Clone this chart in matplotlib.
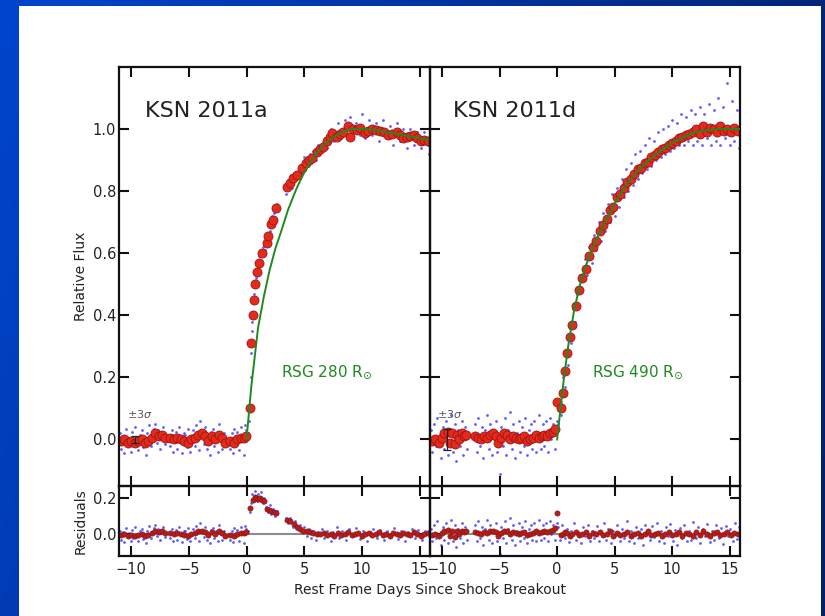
import numpy as np
import matplotlib
matplotlib.use("Agg")
import matplotlib.pyplot as plt
from matplotlib.patches import Rectangle

# ---------------- data ----------------
x_ticks = [-10, -5, 0, 5, 10, 15]
flux_ticks = [0.0, 0.2, 0.4, 0.6, 0.8, 1.0]
resid_ticks = [0.0, 0.2]
panel_names = ["KSN 2011a", "KSN 2011d"]
model_names = [r"RSG 280 R$_{\!\odot}$", r"RSG 490 R$_{\!\odot}$"]

# KSN 2011a -- before breakout the model is zero, so flux == residual there
a_red_pre = [(-10.9, -0.005), (-10.6, 0.0), (-10.3, -0.01), (-10.0, -0.005), (-9.7, -0.01),
             (-9.4, -0.005), (-9.1, 0.0), (-8.8, -0.01), (-8.5, -0.005), (-8.2, 0.005),
             (-7.9, 0.02), (-7.6, 0.01), (-7.3, 0.015), (-7.1, 0.005),
             (-6.6, 0.005), (-6.3, 0.0), (-6.0, 0.005), (-5.7, 0.0), (-5.4, -0.005),
             (-5.1, -0.01), (-4.8, 0.0), (-4.5, 0.005), (-4.2, 0.015), (-3.9, 0.02),
             (-3.6, 0.01), (-3.3, -0.005), (-3.0, 0.01), (-2.7, 0.0), (-2.4, 0.015),
             (-2.1, 0.005), (-1.9, -0.01),
             (-1.4, -0.005), (-1.1, -0.01), (-0.8, 0.0), (-0.5, 0.005), (-0.25, 0.005),
             (-0.05, 0.01)]
a_red_post = [(0.3, 0.10), (0.43, 0.31), (0.52, 0.40), (0.62, 0.45), (0.75, 0.50),
              (0.9, 0.54), (1.05, 0.57), (1.3, 0.60), (1.74, 0.633), (1.88, 0.657),
              (2.09, 0.693), (2.26, 0.708), (2.55, 0.745), (3.53, 0.812), (3.76, 0.826),
              (4.05, 0.842), (4.4, 0.853), (4.77, 0.874), (5.15, 0.89), (5.4, 0.90),
              (5.64, 0.906), (6.07, 0.927), (6.35, 0.935), (6.65, 0.943), (6.94, 0.96),
              (7.2, 0.975), (7.4, 0.987), (7.8, 0.976), (8.1, 0.985), (8.4, 0.99),
              (8.8, 1.01), (8.96, 0.976), (9.25, 1.0), (9.55, 0.998), (9.83, 1.005),
              (10.27, 0.988), (10.55, 0.995), (10.85, 1.0), (11.2, 0.998), (11.6, 0.995),
              (11.95, 0.99), (12.3, 0.98), (12.65, 0.985), (13.0, 0.992), (13.3, 0.98),
              (13.6, 0.97), (13.9, 0.975), (14.2, 0.978), (14.5, 0.98), (14.8, 0.97),
              (15.1, 0.96), (15.4, 0.965), (15.7, 0.962)]
a_red_res_post = [(0.3, 0.145), (0.55, 0.19), (0.7, 0.205), (0.85, 0.2), (1.0, 0.195),
                  (1.15, 0.2), (1.3, 0.19), (1.5, 0.185), (1.75, 0.14), (1.95, 0.135),
                  (2.15, 0.13), (2.4, 0.12), (2.55, 0.115), (3.55, 0.08), (3.8, 0.07),
                  (4.1, 0.055), (4.35, 0.04), (4.6, 0.03), (4.9, 0.02), (5.2, 0.015),
                  (5.5, 0.01), (5.8, 0.005), (6.1, 0.0), (6.4, 0.0), (6.7, 0.005),
                  (7.0, -0.005), (7.3, 0.0), (7.6, -0.01), (7.9, 0.005), (8.2, -0.005),
                  (8.5, 0.0), (8.8, 0.01), (9.1, -0.005), (9.4, 0.0), (9.7, 0.005),
                  (10.0, -0.01), (10.3, 0.0), (10.6, 0.005), (10.9, -0.005), (11.2, 0.0),
                  (11.5, 0.01), (11.8, -0.005), (12.1, 0.0), (12.4, -0.01), (12.7, 0.005),
                  (13.0, 0.0), (13.3, -0.005), (13.6, 0.005), (13.9, 0.0), (14.2, -0.005),
                  (14.5, 0.01), (14.8, 0.0), (15.1, -0.01), (15.4, 0.0), (15.7, 0.005)]
a_blue_pre = [(-11.0, 0.02), (-10.85, -0.03), (-10.7, 0.01), (-10.6, -0.045), (-10.45, 0.035),
              (-10.3, -0.015), (-10.2, 0.005), (-10.05, -0.04), (-9.9, 0.025), (-9.8, -0.02),
              (-9.65, 0.04), (-9.5, -0.01), (-9.4, -0.035), (-9.25, 0.015), (-9.1, 0.03),
              (-9.0, -0.025), (-8.85, 0.0), (-8.7, -0.05), (-8.6, 0.02), (-8.45, 0.045),
              (-8.3, -0.02), (-8.2, 0.01), (-8.05, 0.035), (-7.9, 0.05), (-7.8, -0.01),
              (-7.65, 0.03), (-7.5, -0.03), (-7.4, 0.025), (-7.25, 0.04), (-7.1, -0.015),
              (-6.65, -0.02), (-6.5, 0.03), (-6.4, -0.04), (-6.25, 0.01), (-6.1, 0.025),
              (-6.0, -0.03), (-5.85, 0.04), (-5.7, -0.005), (-5.6, -0.045), (-5.45, 0.02),
              (-5.3, 0.015), (-5.2, -0.025), (-5.05, 0.035), (-4.9, -0.04), (-4.8, 0.005),
              (-4.65, 0.03), (-4.5, -0.02), (-4.4, 0.045), (-4.25, 0.01), (-4.1, -0.035),
              (-4.0, 0.06), (-3.85, 0.02), (-3.7, -0.015), (-3.6, 0.04), (-3.45, -0.03),
              (-3.3, 0.01), (-3.2, -0.05), (-3.05, 0.025), (-2.9, 0.035), (-2.8, -0.02),
              (-2.65, 0.015), (-2.5, -0.04), (-2.4, 0.05), (-2.25, 0.0), (-2.1, -0.03),
              (-1.95, 0.02), (-1.45, -0.03), (-1.3, 0.02), (-1.2, -0.045), (-1.05, 0.035),
              (-0.9, -0.01), (-0.8, 0.025), (-0.65, -0.035), (-0.5, 0.04), (-0.4, 0.01),
              (-0.25, -0.05), (-0.1, 0.045), (-0.02, 0.03)]
a_blue_post = [(0.15, 0.02), (0.25, 0.06), (0.35, 0.2), (0.4, 0.28), (0.45, 0.35), (0.5, 0.38),
               (0.55, 0.44), (0.65, 0.47), (0.8, 0.52), (0.95, 0.53), (1.1, 0.59), (1.2, 0.56),
               (1.4, 0.62), (1.6, 0.61), (1.8, 0.66), (2.0, 0.67), (2.2, 0.72), (2.4, 0.73),
               (2.6, 0.76), (3.4, 0.79), (3.6, 0.83), (3.9, 0.81), (4.1, 0.86), (4.3, 0.84),
               (4.6, 0.88), (4.8, 0.86), (5.0, 0.91), (5.3, 0.88), (5.5, 0.92), (5.8, 0.93),
               (6.0, 0.9), (6.2, 0.95), (6.5, 0.93), (6.8, 0.97), (7.0, 0.94), (7.3, 1.0),
               (7.6, 0.96), (7.9, 1.02), (8.2, 0.97), (8.5, 1.03), (8.7, 0.98), (9.0, 1.04),
               (9.2, 0.97), (9.5, 1.02), (9.8, 0.98), (10.0, 1.05), (10.3, 0.97), (10.6, 1.03),
               (10.9, 0.98), (11.2, 1.02), (11.5, 0.96), (11.8, 1.03), (12.1, 0.97), (12.4, 1.01),
               (12.7, 0.95), (13.0, 1.02), (13.3, 0.96), (13.6, 1.0), (13.9, 0.94), (14.2, 1.0),
               (14.5, 0.95), (14.8, 0.99), (15.1, 0.94), (15.4, 0.99), (15.7, 0.95), (15.85, 0.92)]
a_blue_res_post = [(0.15, 0.02), (0.3, 0.12), (0.4, 0.17), (0.5, 0.22), (0.6, 0.18), (0.7, 0.24),
                   (0.8, 0.21), (0.9, 0.18), (1.0, 0.22), (1.1, 0.19), (1.25, 0.23), (1.4, 0.17),
                   (1.55, 0.2), (1.7, 0.15), (1.85, 0.12), (2.0, 0.16), (2.15, 0.11), (2.3, 0.14),
                   (2.45, 0.1), (2.6, 0.13), (3.4, 0.09), (3.6, 0.06), (3.8, 0.09), (4.0, 0.04),
                   (4.2, 0.07), (4.4, 0.03), (4.6, 0.05), (4.8, 0.01), (5.0, 0.04), (5.2, -0.01),
                   (5.4, 0.03), (5.6, -0.02), (5.8, 0.02), (6.0, -0.03), (6.2, 0.01), (6.5, 0.03),
                   (6.7, -0.02), (7.0, 0.02), (7.3, -0.035), (7.5, 0.01), (7.8, 0.04), (8.0, -0.02),
                   (8.3, 0.02), (8.6, -0.03), (8.9, 0.03), (9.2, -0.01), (9.5, 0.035), (9.8, -0.025),
                   (10.1, 0.02), (10.4, -0.04), (10.7, 0.01), (11.0, 0.03), (11.3, -0.02),
                   (11.6, 0.025), (11.9, -0.03), (12.2, 0.015), (12.5, -0.01), (12.8, 0.035),
                   (13.1, -0.025), (13.4, 0.02), (13.7, -0.035), (14.0, 0.01), (14.3, 0.03),
                   (14.6, -0.02), (14.9, 0.025), (15.2, -0.03), (15.5, 0.02), (15.8, -0.01)]
a_model = [(0.0, 0.0), (0.4, 0.165), (1.0, 0.36), (1.5, 0.46), (2.0, 0.545), (2.5, 0.615),
           (3.0, 0.67), (3.6, 0.74), (4.35, 0.81), (5.0, 0.86), (6.0, 0.92), (7.0, 0.96),
           (8.0, 0.985), (9.0, 1.0), (10.0, 1.0), (11.0, 0.998), (12.0, 0.99), (13.0, 0.985),
           (14.0, 0.978), (15.0, 0.97), (15.9, 0.965)]

# KSN 2011d
d_red_pre = [(-10.9, -0.005), (-10.6, 0.0), (-10.3, -0.01), (-10.0, 0.005), (-9.8, 0.02),
             (-9.5, 0.025), (-9.3, -0.01), (-9.1, 0.02), (-8.9, -0.015), (-8.7, 0.015),
             (-8.5, 0.0), (-8.3, 0.02), (-8.1, 0.01), (-7.9, 0.015),
             (-7.1, 0.01), (-6.85, 0.005), (-6.6, 0.0), (-6.35, 0.01), (-6.1, 0.005),
             (-5.85, 0.015), (-5.6, 0.02), (-5.35, 0.01), (-5.1, -0.01), (-4.85, 0.005),
             (-4.6, 0.02), (-4.35, 0.015), (-4.1, 0.0), (-3.85, 0.01), (-3.6, 0.005),
             (-3.35, 0.0), (-3.1, 0.005), (-2.85, 0.01), (-2.6, -0.005), (-2.35, 0.0),
             (-2.1, 0.005), (-1.85, 0.015), (-1.6, 0.005), (-1.35, 0.01), (-1.1, 0.015),
             (-0.85, 0.01), (-0.6, 0.02), (-0.35, 0.025), (-0.15, 0.035)]
d_red_post = [(0.0, 0.12), (0.3, 0.10), (0.5, 0.15), (0.7, 0.22), (0.9, 0.28), (1.1, 0.33),
              (1.3, 0.37), (1.6, 0.43), (1.9, 0.48), (2.2, 0.52), (2.5, 0.55), (2.8, 0.59),
              (3.1, 0.62), (3.4, 0.64), (3.7, 0.67), (4.0, 0.69), (4.3, 0.71), (4.6, 0.74),
              (4.9, 0.75), (5.2, 0.78), (5.5, 0.79), (5.8, 0.81), (6.1, 0.83), (6.4, 0.84),
              (6.7, 0.855), (7.0, 0.87), (7.3, 0.875), (7.6, 0.89), (7.9, 0.895), (8.2, 0.91),
              (8.5, 0.915), (8.8, 0.925), (9.1, 0.935), (9.4, 0.94), (9.7, 0.95), (10.0, 0.955),
              (10.3, 0.96), (10.6, 0.97), (10.9, 0.975), (11.2, 0.98), (11.5, 0.985),
              (11.8, 0.99), (12.1, 1.0), (12.4, 0.985), (12.7, 1.01), (13.0, 0.99),
              (13.3, 1.005), (13.6, 1.0), (13.9, 0.99), (14.2, 1.01), (14.5, 0.995),
              (14.8, 1.0), (15.1, 0.99), (15.4, 1.005), (15.7, 0.995)]
d_red_res_post = [(0.0, 0.115), (0.3, -0.005), (0.5, 0.0), (0.7, 0.01), (0.9, 0.005),
                  (1.1, -0.01), (1.3, 0.0), (1.6, 0.01), (1.9, -0.005), (2.2, 0.0),
                  (2.5, 0.01), (2.8, -0.01), (3.1, 0.005), (3.4, 0.0), (3.7, 0.01),
                  (4.0, -0.005), (4.3, 0.0), (4.6, 0.015), (4.9, -0.01), (5.2, 0.005),
                  (5.5, -0.005), (5.8, 0.0), (6.1, 0.01), (6.4, -0.01), (6.7, 0.0),
                  (7.0, 0.005), (7.3, -0.01), (7.6, 0.0), (7.9, 0.015), (8.2, -0.005),
                  (8.5, 0.0), (8.8, 0.005), (9.1, -0.01), (9.4, 0.0), (9.7, 0.01),
                  (10.0, -0.005), (10.3, 0.0), (10.6, 0.01), (10.9, -0.01), (11.2, 0.005),
                  (11.5, 0.0), (11.8, -0.01), (12.1, 0.01), (12.4, -0.005), (12.7, 0.015),
                  (13.0, 0.0), (13.3, -0.01), (13.6, 0.005), (13.9, 0.01), (14.2, -0.005),
                  (14.5, 0.0), (14.8, 0.01), (15.1, -0.005), (15.4, 0.005), (15.7, 0.0)]
d_blue_pre = [(-11.0, 0.03), (-10.85, -0.04), (-10.7, 0.05), (-10.55, -0.02), (-10.4, 0.07),
              (-10.25, 0.0), (-10.1, -0.06), (-9.95, 0.04), (-9.8, -0.03), (-9.65, 0.06),
              (-9.5, -0.05), (-9.35, 0.02), (-9.2, 0.08), (-9.05, -0.04), (-8.9, 0.05),
              (-8.75, -0.07), (-8.6, 0.03), (-8.45, -0.02), (-8.3, 0.06), (-8.15, -0.05),
              (-8.0, 0.04), (-7.85, -0.03), (-7.15, 0.05), (-7.0, -0.04), (-6.85, 0.07),
              (-6.7, -0.02), (-6.55, 0.04), (-6.4, -0.06), (-6.25, 0.03), (-6.1, 0.08),
              (-5.95, -0.03), (-5.8, 0.05), (-5.65, -0.05), (-5.5, 0.02), (-5.35, 0.06),
              (-5.2, -0.04), (-5.0, -0.11), (-4.85, 0.04), (-4.7, -0.02), (-4.55, 0.07),
              (-4.4, -0.05), (-4.25, 0.03), (-4.1, 0.09), (-3.95, -0.03), (-3.8, 0.05),
              (-3.65, -0.06), (-3.5, 0.02), (-3.35, 0.06), (-3.2, -0.04), (-3.05, 0.04),
              (-2.9, -0.02), (-2.75, 0.07), (-2.6, -0.05), (-2.45, 0.03), (-2.3, 0.05),
              (-2.15, -0.03), (-2.0, 0.06), (-1.85, -0.04), (-1.7, 0.02), (-1.55, 0.08),
              (-1.4, -0.03), (-1.25, 0.05), (-1.1, -0.02), (-0.95, 0.06), (-0.8, -0.04),
              (-0.65, 0.07), (-0.5, 0.0), (-0.35, 0.05), (-0.2, -0.03), (-0.05, 0.06)]
d_blue_post = [(0.05, 0.05), (0.2, 0.12), (0.35, 0.08), (0.5, 0.2), (0.65, 0.17), (0.8, 0.27),
               (0.95, 0.24), (1.1, 0.36), (1.25, 0.31), (1.4, 0.42), (1.55, 0.38), (1.7, 0.47),
               (1.85, 0.43), (2.0, 0.53), (2.2, 0.48), (2.4, 0.58), (2.6, 0.53), (2.8, 0.62),
               (3.0, 0.57), (3.2, 0.66), (3.4, 0.61), (3.6, 0.7), (3.8, 0.64), (4.0, 0.73),
               (4.2, 0.67), (4.4, 0.76), (4.6, 0.7), (4.8, 0.79), (5.0, 0.72), (5.2, 0.81),
               (5.4, 0.75), (5.6, 0.84), (5.8, 0.78), (6.0, 0.87), (6.2, 0.8), (6.4, 0.89),
               (6.6, 0.82), (6.8, 0.92), (7.0, 0.84), (7.2, 0.93), (7.4, 0.86), (7.6, 0.95),
               (7.8, 0.87), (8.0, 0.97), (8.2, 0.88), (8.4, 0.96), (8.6, 0.9), (8.8, 0.99),
               (9.0, 0.91), (9.2, 1.0), (9.4, 0.92), (9.6, 1.01), (9.8, 0.93), (10.0, 1.03),
               (10.2, 0.94), (10.4, 1.02), (10.6, 0.95), (10.8, 1.05), (11.0, 0.95), (11.2, 1.04),
               (11.4, 0.96), (11.6, 1.06), (11.8, 0.95), (12.0, 1.05), (12.2, 0.96), (12.4, 1.07),
               (12.6, 0.95), (12.8, 1.05), (13.0, 0.97), (13.2, 1.08), (13.4, 0.95), (13.6, 1.06),
               (13.8, 0.96), (14.0, 1.1), (14.2, 0.95), (14.4, 1.07), (14.6, 0.97), (14.8, 1.15),
               (15.0, 0.95), (15.2, 1.09), (15.4, 0.96), (15.6, 1.06), (15.8, 0.94)]
d_blue_res_post = [(0.05, 0.04), (0.25, -0.03), (0.45, 0.05), (0.65, -0.02), (0.85, 0.03),
                   (1.05, -0.045), (1.25, 0.02), (1.45, 0.06), (1.65, -0.03), (1.85, 0.01),
                   (2.05, -0.05), (2.25, 0.04), (2.45, -0.01), (2.65, 0.05), (2.85, -0.035),
                   (3.05, 0.02), (3.25, -0.02), (3.45, 0.045), (3.65, -0.04), (3.85, 0.01),
                   (4.05, 0.06), (4.25, -0.03), (4.45, 0.03), (4.65, -0.05), (4.85, 0.02),
                   (5.05, -0.01), (5.25, 0.05), (5.45, -0.04), (5.65, 0.03), (5.85, -0.02),
                   (6.05, 0.07), (6.25, -0.035), (6.45, 0.015), (6.65, -0.05), (6.85, 0.04),
                   (7.05, -0.02), (7.25, 0.03), (7.45, -0.06), (7.65, 0.05), (7.85, 0.0),
                   (8.05, -0.03), (8.25, 0.045), (8.45, -0.015), (8.65, 0.06), (8.85, -0.04),
                   (9.05, 0.02), (9.25, -0.05), (9.45, 0.04), (9.65, -0.01), (9.85, 0.055),
                   (10.05, -0.035), (10.25, 0.025), (10.45, -0.06), (10.65, 0.035), (10.85, -0.02),
                   (11.05, 0.05), (11.25, -0.04), (11.45, 0.015), (11.65, -0.03), (11.85, 0.065),
                   (12.05, -0.02), (12.25, 0.04), (12.45, -0.05), (12.65, 0.03), (12.85, -0.01),
                   (13.05, 0.055), (13.25, -0.045), (13.45, 0.02), (13.65, -0.03), (13.85, 0.05),
                   (14.05, -0.02), (14.25, 0.035), (14.45, -0.055), (14.65, 0.045), (14.85, -0.01),
                   (15.05, 0.03), (15.25, -0.04), (15.45, 0.06), (15.65, -0.025), (15.85, 0.04)]
d_model = [(0.0, 0.0), (0.3, 0.1), (0.6, 0.2), (1.0, 0.31), (1.5, 0.42), (2.0, 0.5),
           (2.5, 0.56), (3.0, 0.61), (3.5, 0.65), (4.0, 0.69), (4.6, 0.73), (5.0, 0.76),
           (6.0, 0.82), (7.0, 0.865), (8.0, 0.9), (9.0, 0.93), (10.0, 0.955), (11.0, 0.975),
           (12.0, 0.99), (13.0, 0.997), (14.0, 1.0), (15.9, 1.0)]

# error-bar marker next to the "+-3 sigma" note
sigma_x = [-9.7, -9.6]
sigma_err = [0.012, 0.033]

panels = [
    (a_red_pre, a_red_post, a_red_res_post, a_blue_pre, a_blue_post, a_blue_res_post, a_model),
    (d_red_pre, d_red_post, d_red_res_post, d_blue_pre, d_blue_post, d_blue_res_post, d_model),
]

# ---------------- figure ----------------
W, H = 825, 616
fig = plt.figure(figsize=(W / 100, H / 100), dpi=100)

# blue slide background with white card
bg = fig.add_axes([0, 0, 1, 1], zorder=-10)
gx = np.linspace(0, 1, 200)
gy = np.linspace(0, 1, 50)
GX, GY = np.meshgrid(gx, gy)
c_left = np.array([0, 68, 206]) / 255
c_right = np.array([0, 38, 122]) / 255
img = c_left[None, None, :] * (1 - GX[..., None]) + c_right[None, None, :] * GX[..., None]
img = img * (1 - 0.12 * GY[..., None])
bg.imshow(img, extent=[0, 1, 0, 1], aspect="auto", origin="upper")
bg.add_patch(Rectangle((19 / W, 0), (821 - 19) / W, (H - 6) / H, transform=bg.transAxes,
                       facecolor="white", edgecolor="none"))
bg.set_xlim(0, 1)
bg.set_ylim(0, 1)
bg.axis("off")

xL, xM, xR = 119 / W, 430 / W, 740 / W
main_b, main_t = 1 - 486 / H, 1 - 67 / H
res_b = 1 - 556 / H

txt_col = "#222222"
blue = "#3434ff"
red_face = "#e42a1c"
red_edge = "#9e1410"
green = "#1f8a1f"

for i, (red_pre, red_post, red_res_post, blue_pre, blue_post, blue_res_post, model) in enumerate(panels):
    left = xL if i == 0 else xM
    width = (xM - xL) if i == 0 else (xR - xM)
    ax = fig.add_axes([left, main_b, width, main_t - main_b])
    axr = fig.add_axes([left, res_b, width, main_b - res_b])

    rp = np.array(red_pre)
    rq = np.array(red_post)
    rr = np.array(red_res_post)
    bp = np.array(blue_pre)
    bq = np.array(blue_post)
    br = np.array(blue_res_post)
    md = np.array(model)

    # main light curve
    ax.scatter(bp[:, 0], bp[:, 1], s=4, color=blue, alpha=0.8, lw=0, zorder=1)
    ax.scatter(bq[:, 0], bq[:, 1], s=4, color=blue, alpha=0.8, lw=0, zorder=1)
    ax.plot(rp[:, 0], rp[:, 1], "o", ms=6.5, mfc=red_face, mec=red_edge, mew=0.6, zorder=2)
    ax.plot(rq[:, 0], rq[:, 1], "o", ms=6.5, mfc=red_face, mec=red_edge, mew=0.6, zorder=2)
    ax.plot(md[:, 0], md[:, 1], color=green, lw=1.4, zorder=3)

    # residuals (model is zero before breakout)
    axr.axhline(0, color="#8c8c8c", lw=1.5, zorder=0)
    axr.scatter(bp[:, 0], bp[:, 1], s=4, color=blue, alpha=0.8, lw=0, zorder=1)
    axr.scatter(br[:, 0], br[:, 1], s=4, color=blue, alpha=0.8, lw=0, zorder=1)
    axr.plot(rp[:, 0], rp[:, 1], "o", ms=3.8, mfc="#b41e18", mec="#8a1010", mew=0.4, zorder=2)
    axr.plot(rr[:, 0], rr[:, 1], "o", ms=3.8, mfc="#b41e18", mec="#8a1010", mew=0.4, zorder=2)

    ax.text(0.085 if i == 0 else 0.075, 0.895, panel_names[i], transform=ax.transAxes,
            fontsize=16, color=txt_col, ha="left", va="center")
    ax.text(2.98 if i == 0 else 3.07, 0.217, model_names[i], color=green,
            fontsize=11, ha="left", va="center")
    ax.text(-10.35 if i == 0 else -10.4, 0.083, r"$\pm3\sigma$", color="#555555",
            fontsize=8, ha="left", va="center")
    ax.errorbar([sigma_x[i]], [0.0], yerr=[sigma_err[i]], fmt="none", ecolor="#222222",
                elinewidth=0.9, capsize=3, capthick=0.9, zorder=4)

    for a in (ax, axr):
        a.set_xlim(-11.05, 15.9)
        a.set_xticks(x_ticks)
        a.tick_params(direction="in", length=7, width=1.5, top=True, right=True,
                      labelsize=10.5, labelcolor=txt_col, colors="#111111", pad=2)
        for s in a.spines.values():
            s.set_linewidth(1.6)
            s.set_color("#111111")
        a.set_facecolor("none")
    for t in ax.get_xticklabels() + axr.get_xticklabels():
        t.set_color(txt_col)
    axr.tick_params(axis="x", pad=4)
    ax.set_ylim(-0.15, 1.2)
    ax.set_yticks(flux_ticks)
    axr.set_ylim(-0.12, 0.265)
    axr.set_yticks(resid_ticks)
    ax.set_xticklabels([])
    axr.set_xticklabels([str(t).replace("-", "\u2212") for t in x_ticks])
    if i == 0:
        ax.set_yticklabels(["%.1f" % v for v in flux_ticks])
        axr.set_yticklabels(["%.1f" % v for v in resid_ticks])
        ax.set_ylabel("Relative Flux", fontsize=10, color=txt_col)
        axr.set_ylabel("Residuals", fontsize=10, color=txt_col)
        ax.yaxis.set_label_coords(-0.1, 0.5)
        axr.yaxis.set_label_coords(-0.1, 0.5)
    else:
        ax.set_yticklabels([])
        axr.set_yticklabels([])

fig.text(430 / W, 1 - 590 / H, "Rest Frame Days Since Shock Breakout", fontsize=10,
         color=txt_col, ha="center", va="center")

fig.savefig("out.png", dpi=100)
